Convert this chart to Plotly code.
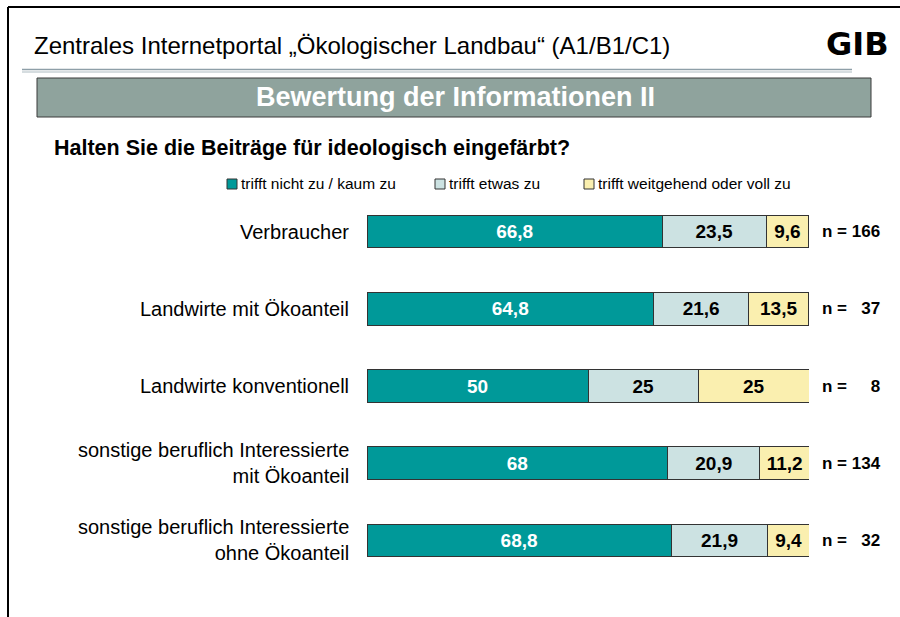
import plotly.graph_objects as go

# data
categories = [
    "Verbraucher",
    "Landwirte mit Ökoanteil",
    "Landwirte konventionell",
    "sonstige beruflich Interessierte<br>mit Ökoanteil",
    "sonstige beruflich Interessierte<br>ohne Ökoanteil",
]
n_labels = ["n = 166", "n =   37", "n =     8", "n = 134", "n =   32"]
series_names = ["trifft nicht zu / kaum zu", "trifft etwas zu", "trifft weitgehend oder voll zu"]
nicht_zu = [66.8, 64.8, 50, 68, 68.8]
etwas_zu = [23.5, 21.6, 25, 20.9, 21.9]
voll_zu = [9.6, 13.5, 25, 11.2, 9.4]

colors = ["#009999", "#CCE2E2", "#FAEFAF"]
text_colors = ["white", "black", "black"]
FONT = "Arial, Liberation Sans, sans-serif"

W, H = 900, 617


def px_x(x):
    return x / W


def px_y(y):
    return 1 - y / H


def fmt(v):
    return f"{v:g}".replace(".", ",")


rows = list(range(len(categories)))

fig = go.Figure()
for name, vals, col, tcol in zip(series_names, [nicht_zu, etwas_zu, voll_zu], colors, text_colors):
    fig.add_trace(go.Bar(
        y=rows,
        x=vals,
        orientation="h",
        name=name,
        marker=dict(color=col, line=dict(color="#333333", width=1)),
        text=[fmt(v) for v in vals],
        textposition="inside",
        insidetextanchor="middle",
        constraintext="none",
        textfont=dict(family=FONT, size=19, color=tcol, weight="bold"),
        width=0.42,
        showlegend=False,
    ))

# bar area: 0..100 spans px 367..809, rows centred from 232 to 540
fig.update_layout(
    width=W, height=H,
    margin=dict(l=0, r=0, t=0, b=0),
    paper_bgcolor="white",
    plot_bgcolor="white",
    barmode="stack",
    font=dict(family=FONT, color="black"),
    xaxis=dict(domain=[px_x(367), px_x(809)], range=[0, 100], visible=False, fixedrange=True),
    yaxis=dict(domain=[px_y(579), px_y(193)], range=[4.5, -0.5], visible=False, fixedrange=True),
)

annotations = []
# category labels and n values
for i, (cat, n) in enumerate(zip(categories, n_labels)):
    annotations.append(dict(
        x=px_x(351), y=i, xref="paper", yref="y", text=cat, showarrow=False,
        xanchor="right", yanchor="middle", align="right",
        font=dict(family=FONT, size=20, color="black"),
    ))
    annotations.append(dict(
        x=px_x(820), y=i, xref="paper", yref="y", text=n.replace(" ", "\u00a0"), showarrow=False,
        xanchor="left", yanchor="middle",
        font=dict(family=FONT, size=17, color="black", weight="bold"),
    ))

# header texts
annotations += [
    dict(x=px_x(32), y=px_y(46), xref="paper", yref="paper",
         text="Zentrales Internetportal „Ökologischer Landbau“ (A1/B1/C1)",
         showarrow=False, xanchor="left", yanchor="middle",
         font=dict(family=FONT, size=24, color="black")),
    dict(x=px_x(891), y=px_y(44), xref="paper", yref="paper", text="GIB",
         showarrow=False, xanchor="right", yanchor="middle",
         font=dict(family="Arial Black, DejaVu Sans, sans-serif", size=32, color="black", weight="bold")),
    dict(x=px_x(455), y=px_y(97), xref="paper", yref="paper", text="Bewertung der Informationen II",
         showarrow=False, xanchor="center", yanchor="middle",
         font=dict(family=FONT, size=27, color="white", weight="bold")),
    dict(x=px_x(52), y=px_y(148), xref="paper", yref="paper",
         text="Halten Sie die Beiträge für ideologisch eingefärbt?",
         showarrow=False, xanchor="left", yanchor="middle",
         font=dict(family=FONT, size=21.5, color="black", weight="bold")),
]

shapes = [
    # page frame
    dict(type="line", xref="paper", yref="paper", x0=px_x(8), x1=px_x(8), y0=px_y(7), y1=0,
         line=dict(color="black", width=2)),
    dict(type="line", xref="paper", yref="paper", x0=px_x(8), x1=1, y0=px_y(7), y1=px_y(7),
         line=dict(color="black", width=2)),
    # double rule under header
    dict(type="line", xref="paper", yref="paper", x0=px_x(22), x1=px_x(852), y0=px_y(69.5), y1=px_y(69.5),
         line=dict(color="#8E9FA8", width=1.5)),
    dict(type="line", xref="paper", yref="paper", x0=px_x(22), x1=px_x(852), y0=px_y(72), y1=px_y(72),
         line=dict(color="#C9D2D6", width=1.5)),
    # title box
    dict(type="rect", xref="paper", yref="paper", x0=px_x(37), x1=px_x(871), y0=px_y(117), y1=px_y(78),
         fillcolor="#8FA39D", line=dict(color="#3A3A3A", width=1), layer="below"),
]

# hand-drawn legend
legend_x = [227, 435, 584]
for lx, name, col in zip(legend_x, series_names, colors):
    shapes.append(dict(type="rect", xref="paper", yref="paper",
                       x0=px_x(lx), x1=px_x(lx + 10), y0=px_y(189), y1=px_y(179),
                       fillcolor=col, line=dict(color="#333333", width=1)))
    annotations.append(dict(x=px_x(lx + 12), y=px_y(183), xref="paper", yref="paper", text=name,
                            showarrow=False, xanchor="left", yanchor="middle",
                            font=dict(family=FONT, size=15.5, color="black")))

fig.update_layout(annotations=annotations, shapes=shapes)

# drop the default 8px body margin so the figure fills the window
fig.write_html("out.html", config={"displayModeBar": False},
               post_script="document.body.style.margin='0';")
